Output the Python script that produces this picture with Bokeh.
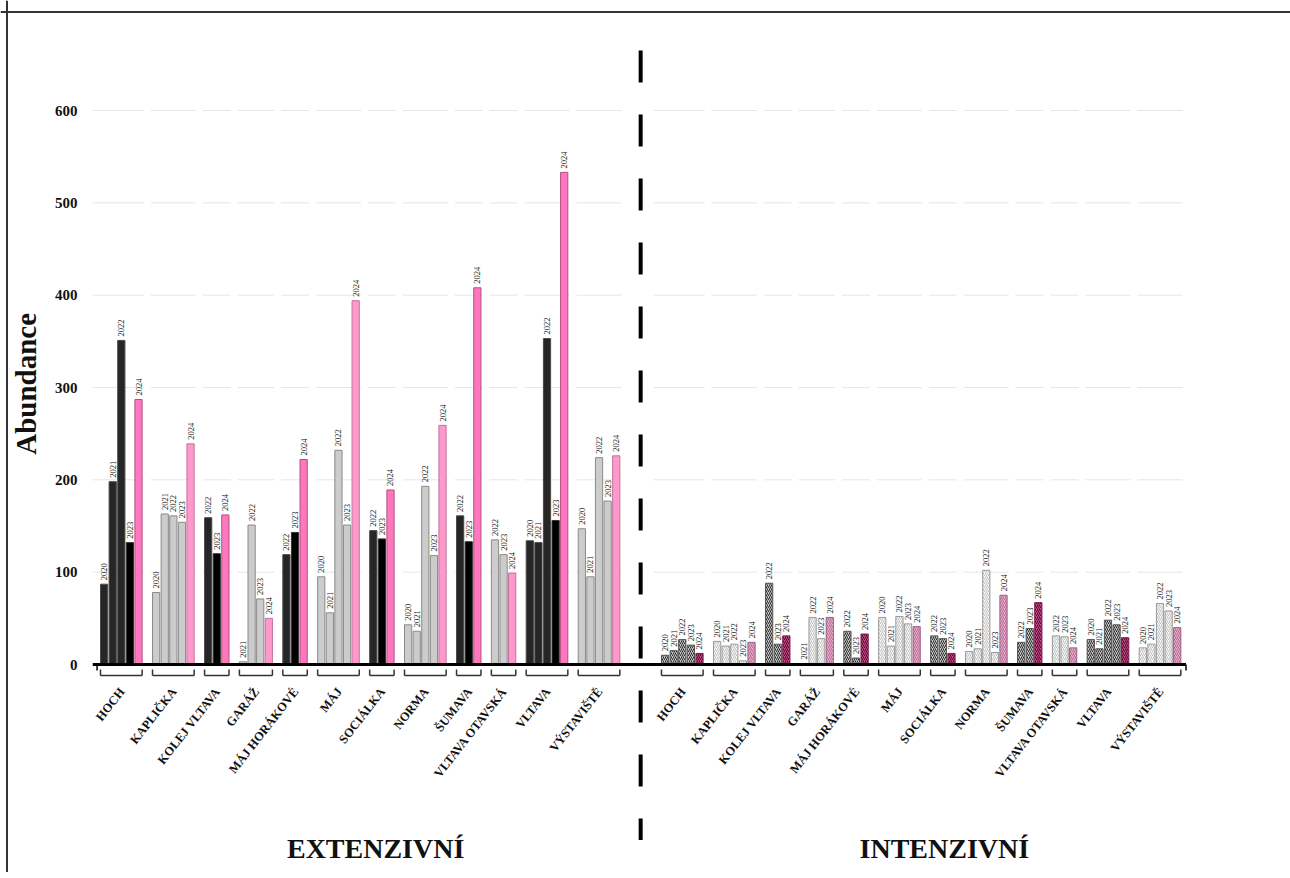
import math
from bokeh.plotting import figure
from bokeh.models import Range1d, ColumnDataSource, Span
from bokeh.core.properties import value
from bokeh.embed import file_html
from bokeh.resources import INLINE

# ---------------- data ----------------
sites = ["HOCH", "KAPLIČKA", "KOLEJ VLTAVA", "GARÁŽ", "MÁJ HORÁKOVÉ", "MÁJ",
         "SOCIÁLKA", "NORMA", "ŠUMAVA", "VLTAVA OTAVSKÁ", "VLTAVA", "VÝSTAVIŠTĚ"]
dark_site = [True, False, True, False, True, False,
             True, False, True, False, True, False]
site_years = [
    [2020, 2021, 2022, 2023, 2024],
    [2020, 2021, 2022, 2023, 2024],
    [2022, 2023, 2024],
    [2021, 2022, 2023, 2024],
    [2022, 2023, 2024],
    [2020, 2021, 2022, 2023, 2024],
    [2022, 2023, 2024],
    [2020, 2021, 2022, 2023, 2024],
    [2022, 2023, 2024],
    [2022, 2023, 2024],
    [2020, 2021, 2022, 2023, 2024],
    [2020, 2021, 2022, 2023, 2024],
]
ext_values = [
    [87, 198, 351, 132, 287],
    [78, 163, 161, 154, 239],
    [159, 120, 162],
    [3, 151, 71, 50],
    [119, 143, 222],
    [95, 56, 232, 151, 394],
    [145, 136, 189],
    [43, 36, 193, 118, 259],
    [161, 133, 408],
    [135, 119, 99],
    [134, 132, 353, 156, 533],
    [147, 95, 224, 177, 226],
]
int_values = [
    [10, 15, 27, 21, 12],
    [25, 20, 22, 4, 24],
    [88, 22, 31],
    [1, 51, 28, 51],
    [36, 7, 33],
    [51, 20, 52, 44, 41],
    [31, 28, 12],
    [14, 17, 102, 13, 75],
    [24, 39, 67],
    [31, 30, 18],
    [27, 17, 48, 43, 29],
    [18, 22, 66, 58, 40],
]
y_ticks = [0, 100, 200, 300, 400, 500, 600]
panel_titles = ["EXTENZIVNÍ", "INTENZIVNÍ"]
y_label = "Abundance"

# ---------------- layout / style constants ----------------
W, H = 1290, 872
PX_X = 8.6          # px per x unit (one bar slot)
PX_Y = 0.9233       # px per abundance unit
BAR_W = 0.84
GROUP_GAP = 1.05
PANEL2_START = 65.23
XS = -100 / PX_X
XE = XS + W / PX_X
YE = 664 / PX_Y
YS = -(H - 664) / PX_Y
LABEL_ANGLE = math.radians(52)

SERIF = value("Liberation Serif")

p = figure(width=W, height=H, output_backend="svg", toolbar_location=None,
           x_range=Range1d(XS, XE), y_range=Range1d(YS, YE),
           min_border=0, outline_line_color=None)
p.xaxis.visible = False
p.yaxis.visible = False
p.xgrid.visible = False
p.ygrid.visible = False
p.background_fill_color = "white"
p.border_fill_color = "white"


def layout(start):
    bars, groups = [], []
    pos = start
    for i, yrs in enumerate(site_years):
        g_left = pos
        for j, yr in enumerate(yrs):
            bars.append((i, j, yr, pos + BAR_W / 2))
            pos += 1
        g_right = pos - 1 + BAR_W
        groups.append((g_left, g_right))
        pos += GROUP_GAP
    return bars, groups


panels = []
for k, (vals, start) in enumerate([(ext_values, 0.0), (int_values, PANEL2_START)]):
    bars, groups = layout(start)
    panels.append((vals, bars, groups))

# grid segments per group
gx0, gx1, gy = [], [], []
for vals, bars, groups in panels:
    for n, (gl, gr) in enumerate(groups):
        for t in y_ticks[1:]:
            gx0.append(gl - (0.9 if n == 0 else 0.2))
            gx1.append(gr + 0.2)
            gy.append(t)
p.segment(x0=gx0, y0=gy, x1=gx1, y1=gy, line_color="#e6e6e6", line_width=1)

# bars
for k, (vals, bars, groups) in enumerate(panels):
    xs_, tops, fills, lines, hatches = [], [], [], [], []
    for (i, j, yr, xc) in bars:
        v = vals[i][j]
        xs_.append(xc)
        tops.append(v)
        dark = dark_site[i]
        if k == 0:
            if yr == 2024:
                f, l = ("#ff78bd", "#b04f80") if dark else ("#ff99cc", "#c0739a")
            elif dark:
                f, l = ("#000000", "#333333") if yr == 2023 else ("#262626", "#4a4a4a")
            else:
                f, l = ("#cccccc", "#8a8a8a")
            h = None
        else:
            if yr == 2024:
                f, h, l = ("#c8488a", "#4a0a28", "#7a2050") if dark else ("#e6aacb", "#b86c95", "#a0607f")
            elif dark:
                f, h, l = ("#c4c4c4", "#2e2e2e", "#555555")
            else:
                f, h, l = ("#f7f7f7", "#c2c2c2", "#9a9a9a")
        fills.append(f)
        lines.append(l)
        hatches.append(h)
    src = ColumnDataSource(dict(x=xs_, top=tops, fill=fills, line=lines))
    if k == 0:
        p.vbar(x="x", top="top", bottom=0, width=BAR_W, source=src,
               fill_color="fill", line_color="line", line_width=1)
    else:
        src.data["hatch"] = hatches
        p.vbar(x="x", top="top", bottom=0, width=BAR_W, source=src,
               fill_color="fill", line_color="line", line_width=1,
               hatch_pattern="/", hatch_color="hatch", hatch_scale=4,
               hatch_weight=1)
    # year labels
    p.text(x=xs_, y=[t + 4.3 for t in tops], text=[str(b[2]) for b in bars],
           angle=math.pi / 2, text_align="left", text_baseline="middle",
           text_font=SERIF, text_font_size="8.5px", text_color="#111111")

    # brackets and category labels
    bx0, bx1, by0, by1 = [], [], [], []
    for (gl, gr) in groups:
        bx0 += [gl, gl, gr]
        bx1 += [gr, gl, gr]
        by0 += [-11.9, -11.9, -11.9]
        by1 += [-11.9, -5.4, -5.4]
    p.segment(x0=bx0, y0=by0, x1=bx1, y1=by1, line_color="#333333", line_width=1.5)
    p.text(x=[(gl + gr) / 2 + 0.1 for gl, gr in groups], y=[-27] * len(groups),
           text=sites, angle=LABEL_ANGLE, text_align="right", text_baseline="middle",
           text_font=SERIF, text_font_style="bold", text_font_size="12.5px",
           text_color="#111111")

# baseline
left_end = panels[0][2][0][0] - 0.9
right_end = panels[1][2][-1][1] + 0.6
p.segment(x0=[left_end], y0=[0], x1=[right_end], y1=[0], line_color="black", line_width=3)
p.segment(x0=[left_end + 0.5, right_end], y0=[0, 0], x1=[left_end + 0.5, right_end],
          y1=[-6.5, -6.5], line_color="black", line_width=1.5)

# y tick labels
tick_x = XS + 77 / PX_X
p.text(x=[tick_x] * len(y_ticks), y=y_ticks, text=[str(t) for t in y_ticks],
       text_align="right", text_baseline="middle", text_font=SERIF,
       text_font_style="bold", text_font_size="15px", text_color="#111111")

# y label
p.text(x=[XS + 25 / PX_X], y=[304], text=[y_label], angle=math.pi / 2,
       text_align="center", text_baseline="middle", text_font=SERIF,
       text_font_style="bold", text_font_size="29px", text_color="#111111")

# dashed separator
sep_x = (panels[0][2][-1][1] + panels[1][2][0][0]) / 2
p.segment(x0=[sep_x], y0=[665], x1=[sep_x], y1=[-190], line_color="black",
          line_width=4, line_dash="32 32")

# panel titles
centers = [(pn[2][0][0] + pn[2][-1][1]) / 2 + off for pn, off in zip(panels, [1.8, 2.7])]
p.text(x=centers, y=[-199] * 2, text=panel_titles, text_align="center",
       text_baseline="middle", text_font=SERIF, text_font_style="bold",
       text_font_size="28px", text_color="#111111")

# frame lines (top and left)
p.add_layout(Span(location=YE - 11.5 / PX_Y, dimension="width", line_color="#333333", line_width=2))
p.add_layout(Span(location=XS + 6.5 / PX_X, dimension="height", line_color="#333333", line_width=2))

open("out.html", "w").write(file_html(p, INLINE))
